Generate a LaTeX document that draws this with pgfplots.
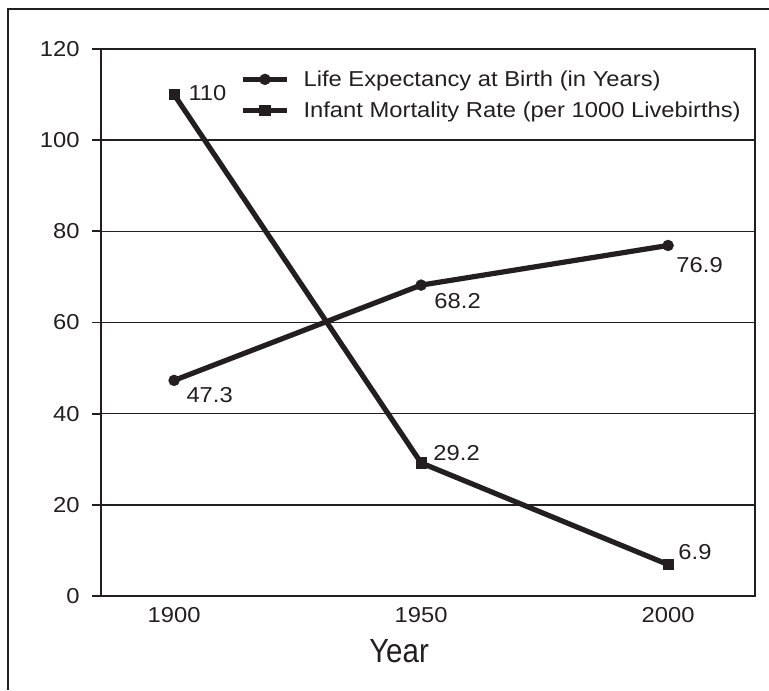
\documentclass[border=0pt]{standalone}
\usepackage{fontspec}
\setmainfont{Liberation Sans}
\newfontfamily\wide[FakeStretch=1.1]{Liberation Sans}
\newfontfamily\narrow[FakeStretch=0.88]{Liberation Sans}
\usepackage{pgfplots}
\pgfplotsset{compat=1.18}
\definecolor{ink}{RGB}{35,31,32}
\tikzset{lab/.style={font=\wide\fontsize{10.8}{12}\selectfont, text=ink, inner sep=0pt, anchor=west}}
\begin{document}
\begin{tikzpicture}
\draw[ink, line width=1.1pt] (4pt,0pt) -- (4pt,340.5pt) -- (384.5pt,340.5pt);
\begin{axis}[
 at={(50.5pt,47pt)}, anchor=south west,
 scale only axis, width=327pt, height=273.5pt,
 xmin=1885.2, xmax=2017.6, ymin=0, ymax=120,
 xtick={1900,1950,2000}, xticklabels={1900,1950,2000},
 ytick={0,20,40,60,80,100,120}, yticklabels={0,20,40,60,80,100,120},
 ytick pos=left, xtick pos=bottom,
 tick align=outside, major tick length=4.5pt,
 major x tick style={draw=none},
 major y tick style={ink, line width=0.9pt},
 ymajorgrids, grid style={ink, line width=0.8pt},
 axis line style={ink, line width=0.9pt},
 tick label style={font=\wide\fontsize{10.8}{12}\selectfont, text=ink, inner sep=0pt},
 yticklabel style={anchor=east, xshift=-6pt},
 xticklabel style={anchor=north, yshift=-1.25pt},
 xlabel={Year},
 xlabel style={at={(axis description cs:0.4557,0)}, anchor=base, yshift=-33pt, inner sep=0pt, font=\narrow\fontsize{16.75}{20}\selectfont, text=ink},
 legend style={at={(axis description cs:0.2125,0.9589)}, anchor=north west, draw=none, fill=none, inner sep=0pt, row sep=8pt, column sep=7pt, font=\wide\fontsize{10.8}{12}\selectfont, text=ink, nodes={inner sep=0pt, text height=7.5pt, text depth=0pt}},
 legend cell align=left,
 legend image code/.code={\draw[mark repeat=2, mark phase=2] plot coordinates {(0pt,0pt) (11pt,0pt) (22pt,0pt)};},
]
\addplot[ink, line width=2.6pt, mark=*, mark size=2.7pt, mark options={line width=0.3pt}] coordinates {(1900,47.3) (1950,68.2) (2000,76.9)};
\addlegendentry{Life Expectancy at Birth (in Years)}
\addplot[ink, line width=2.6pt, mark=square*, mark size=2.6pt, mark options={line width=0.3pt}] coordinates {(1900,110) (1950,29.2) (2000,6.9)};
\addlegendentry{Infant Mortality Rate (per 1000 Livebirths)}
\node[lab, xshift=7pt, yshift=1pt] at (axis cs:1900,110) {110};
\node[lab, xshift=6pt, yshift=-7.5pt] at (axis cs:1900,47.3) {47.3};
\node[lab, xshift=6.5pt, yshift=-8pt] at (axis cs:1950,68.2) {68.2};
\node[lab, xshift=4pt, yshift=-10pt] at (axis cs:2000,76.9) {76.9};
\node[lab, xshift=6pt, yshift=5pt] at (axis cs:1950,29.2) {29.2};
\node[lab, xshift=5pt, yshift=6.3pt] at (axis cs:2000,6.9) {6.9};
\end{axis}
\pgfresetboundingbox
\path[use as bounding box] (0pt,0pt) rectangle (384.5pt,345pt);
\end{tikzpicture}
\end{document}
